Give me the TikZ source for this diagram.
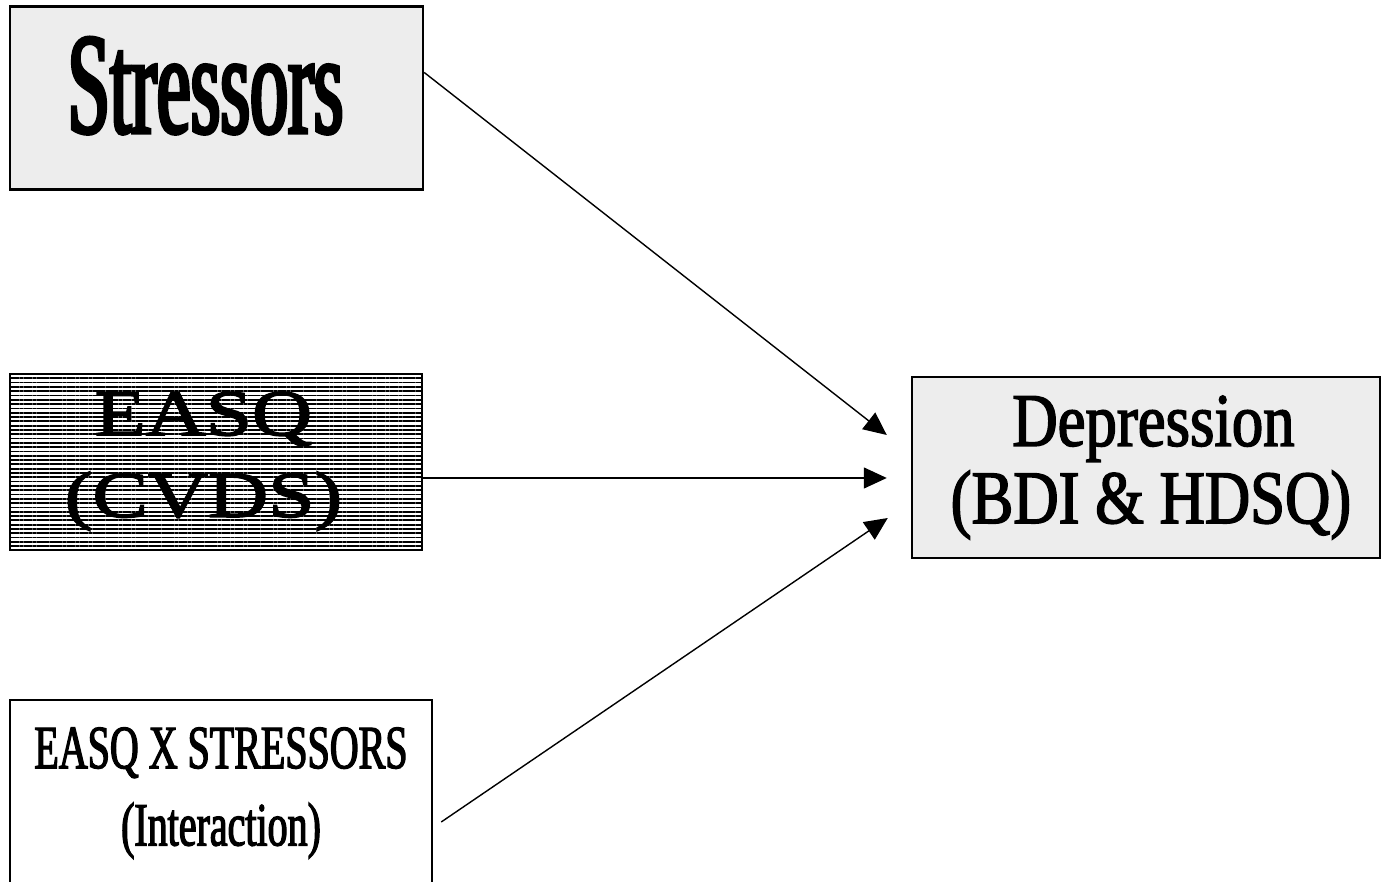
\documentclass[tikz,border=0pt]{standalone}
\usepackage{fontspec}
\setmainfont{Liberation Serif}
\newfontfamily\narrowserif[FakeStretch=0.53,FakeBold=2.5]{Liberation Serif}
\newfontfamily\wideserif[FakeStretch=1.28,FakeBold=2.5]{Liberation Serif}
\newfontfamily\depserif[FakeStretch=0.83,FakeBold=2]{Liberation Serif}
\newfontfamily\condserif[FakeStretch=0.65,FakeBold=2]{Liberation Serif}
\usetikzlibrary{arrows.meta}
\usetikzlibrary{patterns.meta}

\tikzset{
  box/.style={draw, rectangle, line width=1.4pt, inner sep=0pt},
  speckled/.style={fill=black!7},
  striped/.style={pattern={Lines[angle=0,distance=2.45pt,line width=1pt]}},
  arr/.style={line width=0.8pt, -{Triangle[length=0.46cm,width=0.42cm]}}
}

\begin{document}
\begin{tikzpicture}
\useasboundingbox (0,0) rectangle (27.74,17.64);
\clip (0,0) rectangle (27.74,17.64);
% predictors
\node[box, speckled,
   minimum width=8.26cm,
   minimum height=3.66cm,
   text depth=0.52cm,
   font=\narrowserif\fontsize{82}{90}\selectfont] (stress) at (4.33,15.68)
  {Stressors\hspace*{0.44cm}};
\node[box, striped,
   minimum width=8.24cm,
   minimum height=3.52cm,
   text depth=0.3cm,
   align=center,
   font=\wideserif\fontsize{37}{46.5}\selectfont] (easq) at (4.32,8.40)
  {EASQ\hspace*{0.5cm}\\(CVDS)\hspace*{0.5cm}};
\node[box, fill=white,
   minimum width=8.44cm,
   minimum height=3.72cm,
   align=center,
   font=\condserif\fontsize{35}{44}\selectfont] (inter) at (4.42,1.78)
  {EASQ X STRESSORS\\(Interaction)};
% outcome
\node[box, speckled,
   minimum width=9.36cm,
   minimum height=3.62cm,
   align=center,
   font=\depserif\fontsize{43}{44}\selectfont] (dep) at (22.92,8.29)
  {\hspace*{0.3cm}Depression\\\hspace*{0.2cm}(BDI \& HDSQ)};
\draw[arr] (stress.7) -- ([xshift=-0.48cm,yshift=0.65cm]dep.west);
\draw[arr] ([yshift=-0.32cm]easq.east) -- ([xshift=-0.48cm,yshift=-0.21cm]dep.west);
\draw[arr] ([xshift=0.16cm,yshift=-0.58cm]inter.east) -- ([xshift=-0.46cm,yshift=-1.01cm]dep.west);
\end{tikzpicture}
\end{document}
